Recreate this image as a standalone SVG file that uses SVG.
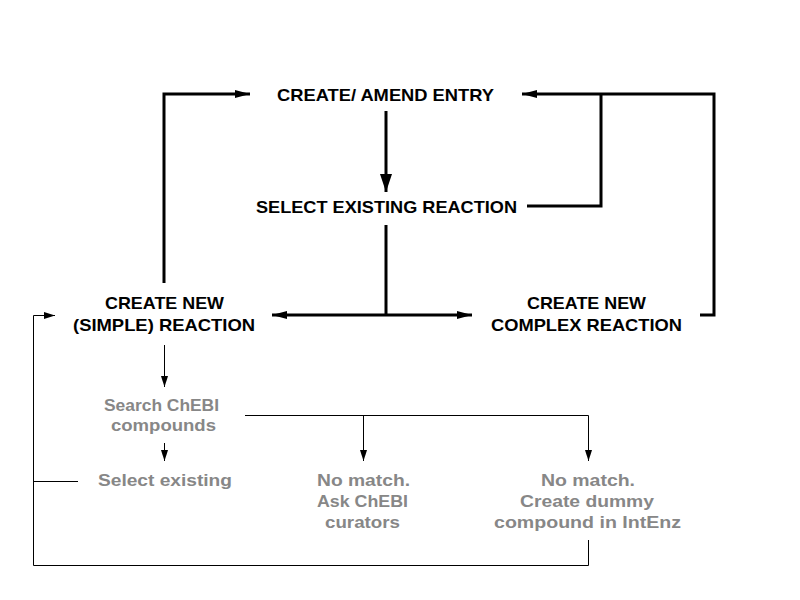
<svg xmlns="http://www.w3.org/2000/svg" width="800" height="600" viewBox="0 0 800 600">
<defs>
<style>
.t{font-family:"Liberation Sans",Arial,sans-serif;font-weight:bold;font-size:17px;fill:#000;text-anchor:middle}
.g{font-family:"Liberation Sans",Arial,sans-serif;font-weight:bold;font-size:16px;fill:#878787;text-anchor:middle}
.k{fill:none;stroke:#000;stroke-width:3}
.n{fill:none;stroke:#000;stroke-width:1}
</style>
<marker id="ah" markerUnits="userSpaceOnUse" markerWidth="16" markerHeight="10" refX="15" refY="5" orient="auto-start-reverse">
<path d="M0,1 L15,5 L0,9 z" fill="#000"/>
</marker>
<marker id="ad" markerUnits="userSpaceOnUse" markerWidth="18" markerHeight="12" refX="18" refY="6" orient="auto">
<path d="M0,0 L18,6 L0,12 z" fill="#000"/>
</marker>
<marker id="as" markerUnits="userSpaceOnUse" markerWidth="12" markerHeight="8" refX="11" refY="4" orient="auto">
<path d="M0,0.5 L11,4 L0,7.5 z" fill="#000"/>
</marker>
</defs>
<rect width="800" height="600" fill="#fff"/>
<g id="connectors">
<path class="k" d="M164,283 V94 H250" marker-end="url(#ah)"/>
<path class="k" d="M386,111 V192" marker-end="url(#ad)"/>
<path class="k" d="M700,315 H714 V94 H522" marker-end="url(#ah)"/>
<path class="k" d="M527,206 H601 V94"/>
<path class="k" d="M386,225 V315"/>
<path class="k" d="M272,315 H472" marker-start="url(#ah)" marker-end="url(#ah)"/>
<path class="n" d="M33.5,565.5 V315.5 H55" marker-end="url(#as)"/>
<path class="n" d="M33.5,481.5 H78"/>
<path class="n" d="M33.5,565.5 H588.5 V540"/>
<path class="n" d="M164.5,345 V387" marker-end="url(#as)"/>
<path class="n" d="M164.5,443 V461" marker-end="url(#as)"/>
<path class="n" d="M245,415.5 H588.5 V461" marker-end="url(#as)"/>
<path class="n" d="M363.5,415.5 V461" marker-end="url(#as)"/>
</g>
<g id="create-amend-entry"><text class="t" x="385.5" y="101" textLength="217" lengthAdjust="spacingAndGlyphs">CREATE/ AMEND ENTRY</text></g>
<g id="select-existing-reaction"><text class="t" x="386.5" y="213" textLength="261" lengthAdjust="spacingAndGlyphs">SELECT EXISTING REACTION</text></g>
<g id="create-simple-reaction">
<text class="t" x="164.5" y="309" textLength="119" lengthAdjust="spacingAndGlyphs">CREATE NEW</text>
<text class="t" x="164" y="331" textLength="182" lengthAdjust="spacingAndGlyphs">(SIMPLE) REACTION</text>
</g>
<g id="create-complex-reaction">
<text class="t" x="586.5" y="309" textLength="119" lengthAdjust="spacingAndGlyphs">CREATE NEW</text>
<text class="t" x="586.5" y="331" textLength="191" lengthAdjust="spacingAndGlyphs">COMPLEX REACTION</text>
</g>
<g id="search-chebi">
<text class="g" x="161.5" y="411" textLength="115" lengthAdjust="spacingAndGlyphs">Search ChEBI</text>
<text class="g" x="163.5" y="431" textLength="105" lengthAdjust="spacingAndGlyphs">compounds</text>
</g>
<g id="select-existing"><text class="g" x="165" y="486" textLength="134" lengthAdjust="spacingAndGlyphs">Select existing</text></g>
<g id="ask-chebi">
<text class="g" x="363.5" y="486" textLength="93" lengthAdjust="spacingAndGlyphs">No match.</text>
<text class="g" x="362.5" y="507" textLength="91" lengthAdjust="spacingAndGlyphs">Ask ChEBI</text>
<text class="g" x="362.5" y="528" textLength="75" lengthAdjust="spacingAndGlyphs">curators</text>
</g>
<g id="create-dummy">
<text class="g" x="588" y="486" textLength="94" lengthAdjust="spacingAndGlyphs">No match.</text>
<text class="g" x="587" y="507" textLength="134" lengthAdjust="spacingAndGlyphs">Create dummy</text>
<text class="g" x="587.5" y="528" textLength="187" lengthAdjust="spacingAndGlyphs">compound in IntEnz</text>
</g>
</svg>
